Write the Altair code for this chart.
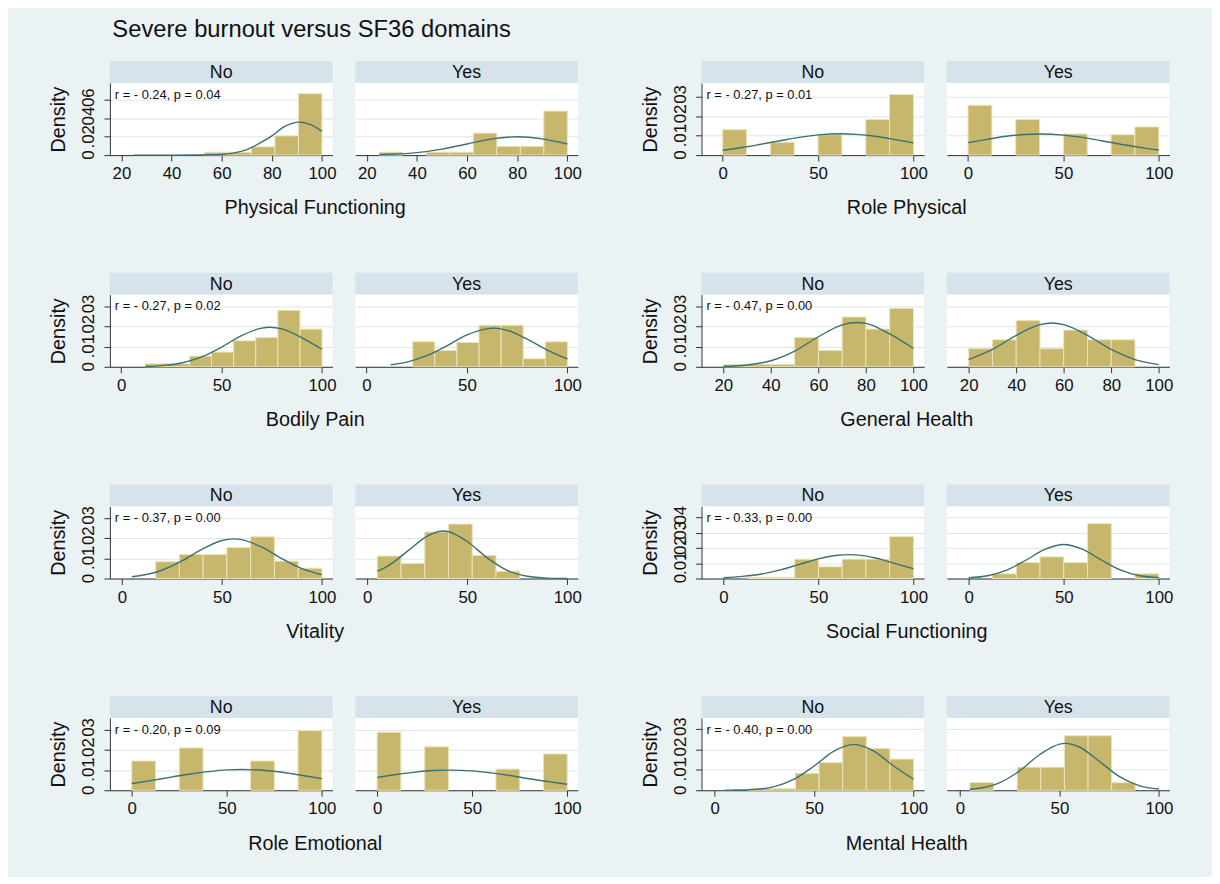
import altair as alt
import pandas as pd

TITLE = "Severe burnout versus SF36 domains"
DOMAINS = ["Physical Functioning", "Role Physical", "Bodily Pain", "General Health",
           "Vitality", "Social Functioning", "Role Emotional", "Mental Health"]
GROUPS = ["No", "Yes"]
STATS = ["r = - 0.24, p = 0.04", "r = - 0.27, p = 0.01", "r = - 0.27, p = 0.02",
         "r = - 0.47, p = 0.00", "r = - 0.37, p = 0.00", "r = - 0.33, p = 0.00",
         "r = - 0.20, p = 0.09", "r = - 0.40, p = 0.00"]

X_TICKS = [[20, 40, 60, 80, 100], [0, 50, 100], [0, 50, 100], [20, 40, 60, 80, 100],
           [0, 50, 100], [0, 50, 100], [0, 50, 100], [0, 50, 100]]
X_RANGE = [[15.4, 104.2], [-11.1, 105.6], [-5.6, 105.2], [10.8, 104.5],
           [-6.0, 105.3], [-11.5, 105.6], [-11.5, 105.6], [-6.6, 105.3]]
Y_TICKS = [[0, 0.02, 0.04, 0.06], [0, 0.01, 0.02, 0.03], [0, 0.01, 0.02, 0.03],
           [0, 0.01, 0.02, 0.03], [0, 0.01, 0.02, 0.03], [0, 0.01, 0.02, 0.03, 0.04],
           [0, 0.01, 0.02, 0.03], [0, 0.01, 0.02, 0.03]]
Y_TICK_TEXT = [["0", ".02", ".04", ".06"], ["0", ".01", ".02", ".03"],
               ["0", ".01", ".02", ".03"], ["0", ".01", ".02", ".03"],
               ["0", ".01", ".02", ".03"], ["0", ".01", ".02", ".03", ".04"],
               ["0", ".01", ".02", ".03"], ["0", ".01", ".02", ".03"]]
Y_TOP = [0.0788, 0.0372, 0.0358, 0.0358, 0.0357, 0.0474, 0.0358, 0.0354]

BIN_START = [25, 0, 12, 20, 5, 0, 0, 5]
BIN_WIDTH = [9.375, 12.5, 11, 10, 11.875, 12.5, 12.5, 11.875]

DENS_NO = [
    [0, 0, 0, 0.0031, 0.0031, 0.0090, 0.0210, 0.0670],
    [0.0131, 0, 0.0066, 0, 0.0105, 0, 0.0183, 0.0312],
    [0.0015, 0.0015, 0.0053, 0.0073, 0.0129, 0.0146, 0.0280, 0.0187],
    [0.0012, 0.0012, 0.0012, 0.0146, 0.0081, 0.0247, 0.0187, 0.0289],
    [0, 0.0083, 0.0119, 0.0119, 0.0154, 0.0206, 0.0086, 0.0051],
    [0, 0.0008, 0.0008, 0.0127, 0.0077, 0.0127, 0.0127, 0.0275],
    [0.0145, 0, 0.0210, 0, 0, 0.0145, 0, 0.0295],
    [0, 0.0008, 0.0008, 0.0083, 0.0135, 0.0263, 0.0205, 0.0153],
]
DENS_YES = [
    [0.0032, 0, 0.0032, 0.0032, 0.0240, 0.0096, 0.0096, 0.0480],
    [0.0257, 0, 0.0183, 0, 0.0109, 0, 0.0105, 0.0145],
    [0, 0.0124, 0.0081, 0.0121, 0.0206, 0.0206, 0.0040, 0.0124],
    [0.0090, 0.0134, 0.0229, 0.0090, 0.0182, 0.0134, 0.0134, 0],
    [0.0111, 0.0075, 0.0230, 0.0269, 0.0114, 0.0036, 0, 0],
    [0, 0.0031, 0.0105, 0.0142, 0.0105, 0.0360, 0, 0.0031],
    [0.0288, 0, 0.0215, 0, 0, 0.0105, 0, 0.0180],
    [0.0038, 0, 0.0113, 0.0113, 0.0267, 0.0267, 0.0037, 0],
]

CURVE_X_NO = [
    [25, 40, 50, 60, 65, 70, 75, 80, 85, 91, 95, 100],
    [0, 10, 20, 30, 40, 50, 62, 70, 80, 90, 100],
    [12, 20, 30, 40, 50, 60, 70, 74, 80, 90, 100],
    [20, 30, 40, 50, 60, 70, 76, 80, 90, 100],
    [5, 10, 20, 30, 40, 50, 56, 60, 70, 80, 90, 100],
    [0, 10, 20, 30, 40, 50, 60, 66, 70, 80, 90, 100],
    [0, 10, 20, 30, 40, 50, 58, 70, 80, 90, 100],
    [5, 10, 20, 30, 40, 50, 60, 70, 80, 90, 100],
]
CURVE_Y_NO = [
    [0, 0, 0.0001, 0.0007, 0.0024, 0.0060, 0.0127, 0.0210, 0.0310, 0.0360, 0.0337, 0.0260],
    [0.0025, 0.0039, 0.0056, 0.0074, 0.0091, 0.0104, 0.0110, 0.0107, 0.0097, 0.0081, 0.0063],
    [0.0002, 0.0006, 0.0019, 0.0049, 0.0098, 0.0155, 0.0192, 0.0196, 0.0188, 0.0144, 0.0087],
    [0.0002, 0.0009, 0.0030, 0.0078, 0.0149, 0.0208, 0.0220, 0.0215, 0.0163, 0.0091],
    [0.0009, 0.0016, 0.0041, 0.0087, 0.0144, 0.0188, 0.0196, 0.0192, 0.0155, 0.0098, 0.0049, 0.0019],
    [0.0005, 0.0014, 0.0030, 0.0057, 0.0093, 0.0129, 0.0153, 0.0157, 0.0155, 0.0135, 0.0100, 0.0064],
    [0.0033, 0.0048, 0.0064, 0.0079, 0.0092, 0.0101, 0.0103, 0.0098, 0.0088, 0.0073, 0.0057],
    [0, 0.0001, 0.0004, 0.0018, 0.0054, 0.0119, 0.0192, 0.0225, 0.0192, 0.0119, 0.0054],
]
CURVE_X_YES = [
    [25, 30, 40, 50, 60, 70, 80, 90, 100],
    [0, 10, 20, 30, 38, 50, 60, 70, 80, 90, 100],
    [12, 20, 30, 40, 50, 63, 70, 80, 90, 100],
    [20, 30, 40, 50, 55, 60, 70, 80, 90, 100],
    [5, 10, 20, 30, 38, 50, 60, 70, 80, 90, 100],
    [0, 10, 20, 30, 40, 50, 60, 70, 80, 90, 100],
    [0, 10, 20, 30, 38, 50, 60, 70, 80, 90, 100],
    [5, 10, 20, 30, 40, 53, 60, 70, 80, 90, 100],
]
CURVE_Y_YES = [
    [0.0005, 0.0009, 0.0027, 0.0065, 0.0121, 0.0177, 0.0200, 0.0177, 0.0121],
    [0.0064, 0.0081, 0.0097, 0.0106, 0.0109, 0.0103, 0.0091, 0.0074, 0.0056, 0.0040, 0.0026],
    [0.0010, 0.0023, 0.0055, 0.0104, 0.0158, 0.0192, 0.0181, 0.0137, 0.0083, 0.0039],
    [0.0036, 0.0086, 0.0156, 0.0209, 0.0217, 0.0209, 0.0156, 0.0086, 0.0036, 0.0011],
    [0.0036, 0.0060, 0.0134, 0.0210, 0.0235, 0.0183, 0.0102, 0.0040, 0.0011, 0.0002, 0],
    [0.0005, 0.0018, 0.0055, 0.0120, 0.0191, 0.0223, 0.0191, 0.0120, 0.0055, 0.0018, 0.0005],
    [0.0064, 0.0078, 0.0090, 0.0098, 0.0100, 0.0096, 0.0086, 0.0073, 0.0057, 0.0043, 0.0030],
    [0.0005, 0.0010, 0.0037, 0.0095, 0.0174, 0.0230, 0.0212, 0.0142, 0.0068, 0.0023, 0.0006],
]

# ---- style ----
FONT = "Liberation Sans"
BG = "#eaf2f3"
STRIP = "#d6e3ea"
BAR = "#c6b76d"
BAR_EDGE = "#ece4b8"
LINE = "#3c7070"
AXIS = "#333333"
GRID = "#dde5e8"
W, H, STRIP_H = 225, 73, 22


def panel(i, g):
    dens = DENS_NO[i] if g == "No" else DENS_YES[i]
    cx = CURVE_X_NO[i] if g == "No" else CURVE_X_YES[i]
    cy = CURVE_Y_NO[i] if g == "No" else CURVE_Y_YES[i]
    w = BIN_WIDTH[i]
    bars = pd.DataFrame({
        "x0": [BIN_START[i] + k * w for k in range(len(dens))],
        "x1": [BIN_START[i] + (k + 1) * w for k in range(len(dens))],
        "d": dens,
        "z": [0] * len(dens),
    })
    bars = bars[bars["d"] > 0]
    curve = pd.DataFrame({"x": cx, "y": cy})
    first = g == "No"

    xs = alt.Scale(domain=X_RANGE[i], nice=False, zero=False)
    ys = alt.Scale(domain=[0, Y_TOP[i]], nice=False, zero=True)
    xaxis = alt.Axis(values=X_TICKS[i], title=None, grid=False, format="d",
                     labelFontSize=17, tickSize=6, labelPadding=5)
    yaxis = alt.Axis(values=Y_TICKS[i], title="Density" if first else None,
                     labels=False, ticks=first, domain=first, grid=True,
                     tickSize=6, titleFontSize=20, titleFontWeight="normal",
                     titlePadding=35)

    head = pd.DataFrame({"t": [g], "s": [STATS[i] if first else ""]})
    ticks = pd.DataFrame({"v": Y_TICKS[i], "lab": Y_TICK_TEXT[i]})
    strip = alt.Chart(head).mark_rect(fill=STRIP).encode(
        x=alt.value(0), x2=alt.value(W), y=alt.value(-STRIP_H), y2=alt.value(0))
    strip_txt = alt.Chart(head).mark_text(fontSize=18, color="#111").encode(
        x=alt.value(W / 2), y=alt.value(-STRIP_H / 2 + 1), text="t:N")
    hist = alt.Chart(bars).mark_rect(fill=BAR, stroke=BAR_EDGE, strokeWidth=1).encode(
        x=alt.X("x0:Q", scale=xs, axis=xaxis), x2="x1:Q",
        y=alt.Y("d:Q", scale=ys, axis=yaxis), y2="z:Q")
    line = alt.Chart(curve).mark_line(color=LINE, strokeWidth=1.4,
                                      interpolate="monotone").encode(
        x=alt.X("x:Q", scale=xs, axis=xaxis), y=alt.Y("y:Q", scale=ys, axis=yaxis))
    layers = [strip, hist, line, strip_txt]
    if first:
        ann = alt.Chart(head).mark_text(align="left", baseline="middle",
                                        fontSize=13, color="#111").encode(
            x=alt.value(5), y=alt.value(12), text="s:N")
        ylab = alt.Chart(ticks).mark_text(angle=270, align="center", baseline="bottom",
                                          fontSize=17, color="#111").encode(
            x=alt.value(-12), y=alt.Y("v:Q", scale=ys, axis=yaxis), text="lab:N")
        layers += [ann, ylab]
    return alt.layer(*layers).properties(width=W, height=H)


def group(i):
    return alt.hconcat(
        panel(i, "No"), panel(i, "Yes"), spacing=19,
        title=alt.TitleParams(DOMAINS[i], orient="bottom", anchor="middle",
                              fontSize=20, fontWeight="normal", offset=17,
                              color="#111"))


rows = [alt.hconcat(group(2 * r), group(2 * r + 1), spacing=59) for r in range(4)]
chart = alt.vconcat(*rows, spacing=55).properties(
    title=alt.TitleParams(TITLE, anchor="start", fontSize=24, fontWeight="normal",
                          color="#111", offset=19, dx=64),
    padding={"left": 41, "top": 6, "right": 39, "bottom": 19},
).configure(font=FONT, background=BG).configure_view(
    fill="white", stroke=None).configure_axis(
    domainColor=AXIS, tickColor=AXIS, labelColor="#111", titleColor="#111",
    gridColor=GRID, gridWidth=1, domainWidth=1, tickWidth=1)

chart.save("out.html", embed_options={"renderer": "svg", "actions": False})
